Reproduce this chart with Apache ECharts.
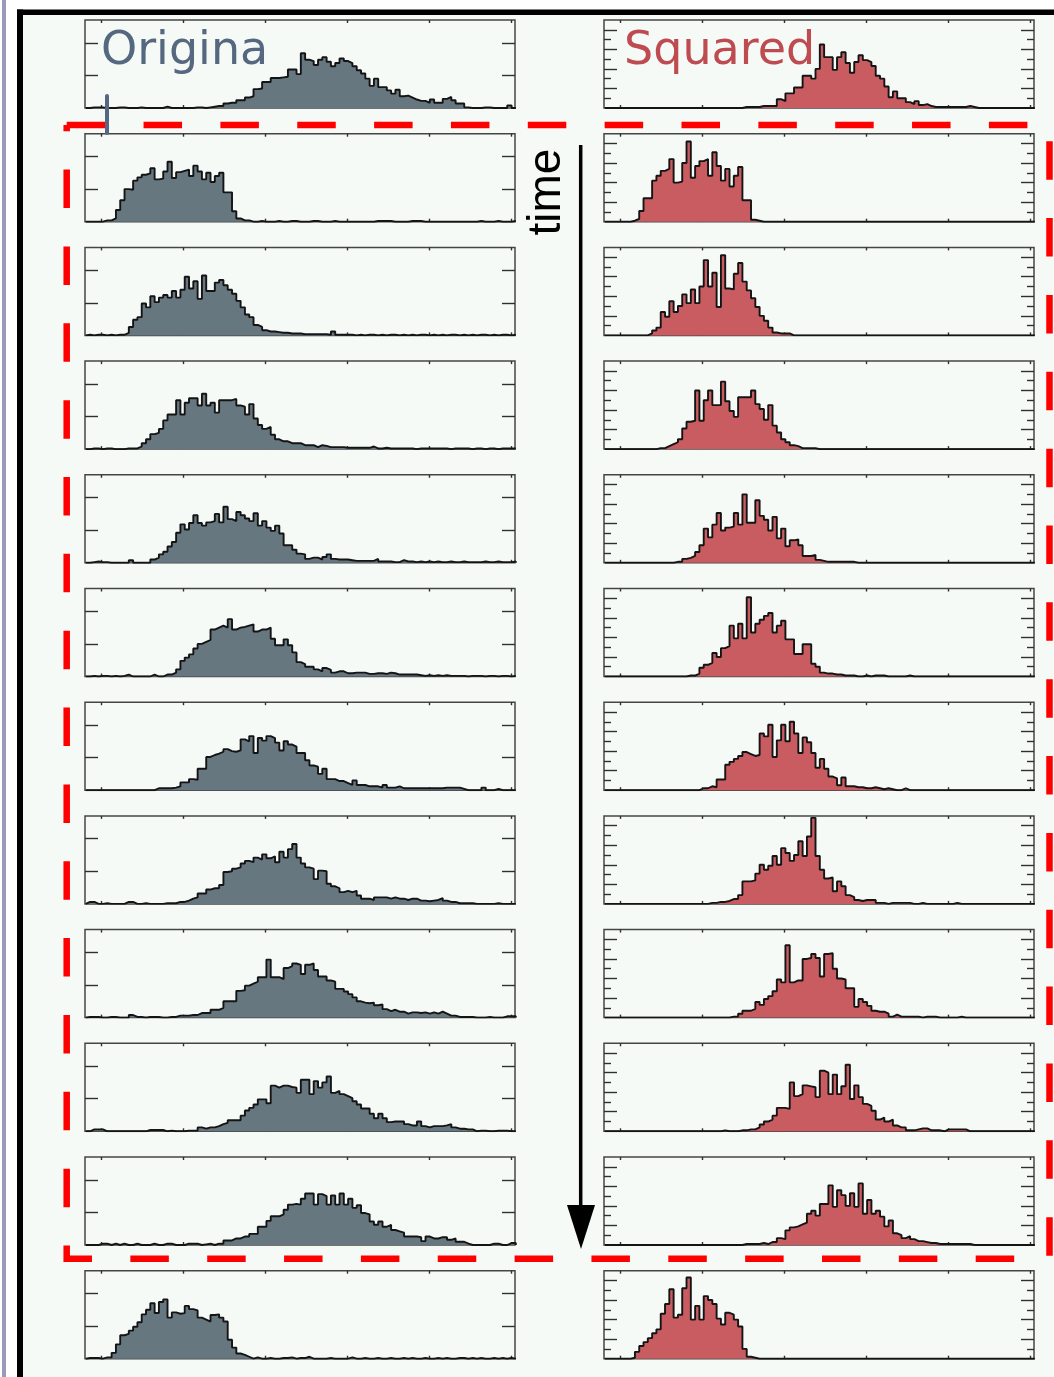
<!DOCTYPE html>
<html>
<head>
<meta charset="utf-8">
<script src="https://cdn.jsdelivr.net/npm/echarts@6/dist/echarts.min.js"></script>
<style>
  html, body { margin: 0; padding: 0; background: #f5faf7; }
  #c { width: 1054px; height: 1377px; }
</style>
</head>
<body>
<div id="c"></div>
<script>
// ---- histogram counts, 100 bins each ----
// left column: original values; top row is the reference run, then successive time steps
const orig00 = [0,1,1,1,0,0,0,1,1,0, 0,0,1,0,0,0,0,0,2,0, 0,0,0,0,0,1,1,0,1,2, 3,3,7,8,8,12,12,16,18,29,
  30,40,40,46,46,47,48,59,59,52, 84,74,72,66,74,78,71,64,69,76, 72,69,64,58,53,45,34,45,32,32,
  27,22,28,18,19,16,13,11,11,8, 13,8,8,14,17,12,7,7,1,0, 0,0,1,1,0,0,0,0,4,0];
const orig01 = [0,0,0,0,2,2,5,18,33,50, 49,63,68,72,74,82,65,66,77,92, 67,76,78,80,70,86,77,65,75,61,
  70,75,45,45,16,5,2,2,0,0, 1,0,0,0,1,0,0,1,1,0, 0,0,1,1,0,0,0,1,0,0, 0,0,0,0,0,0,0,1,1,1,
  1,0,0,0,0,1,1,1,0,0, 0,0,0,0,0,0,0,0,0,0, 0,1,0,0,0,1,0,0,0,1];
const orig02 = [1,0,1,1,0,1,0,1,1,4, 13,24,28,49,43,60,51,58,62,58, 68,58,70,90,72,83,56,92,68,68,
  81,85,77,70,64,53,43,32,28,16, 13,8,6,6,5,4,4,3,3,3, 2,2,2,2,2,2,1,6,1,1, 1,1,0,1,0,1,1,0,1,0,
  1,1,0,1,0,1,0,1,1,0, 1,0,1,0,1,1,0,1,0,1, 0,1,1,0,1,0,1,1,0,1];
const orig03 = [0,1,1,0,1,1,0,0,0,1, 1,1,4,9,15,23,25,31,44,53, 53,75,53,71,78,78,67,85,67,71,
  56,75,75,75,77,67,65,53,69,47, 37,31,34,22,15,12,12,9,9,9, 6,6,6,3,6,5,3,3,3,3, 2,2,2,2,2,2,4,1,1,2,
  1,1,1,1,1,1,0,1,1,1, 1,1,1,1,0,1,1,1,1,0, 1,1,0,1,1,0,1,1,1,1];
const orig04 = [0,1,2,1,1,0,0,0,0,0, 4,0,0,0,0,5,8,13,17,25, 32,46,59,51,61,73,61,57,62,64,
  75,62,86,67,64,78,73,68,64,76, 57,64,54,49,57,45,27,27,20,14, 13,6,8,8,5,9,13,6,5,5, 5,4,3,3,3,3,3,6,2,2,
  2,1,1,4,2,2,1,2,1,2, 1,2,1,1,2,1,1,2,1,1, 1,1,2,1,1,2,1,1,1,2];
const orig05 = [0,1,0,1,1,0,1,0,1,3, 0,0,0,0,0,3,0,0,3,3, 6,11,24,29,34,43,50,53,56,72,
  75,78,75,88,72,75,76,78,80,69, 72,72,75,58,48,48,57,48,37,22, 19,15,15,11,8,13,10,6,8,8, 5,5,6,6,6,4,4,5,5,4,
  6,5,3,3,3,3,3,2,1,2, 1,2,1,2,1,1,1,1,0,1, 1,1,0,1,1,0,1,1,0,1];
const orig06 = [0,0,0,0,0,0,0,0,0,0, 0,0,0,0,0,0,3,3,3,3, 4,6,12,12,17,16,33,33,51,54,
  56,59,63,60,59,61,78,75,83,57, 80,76,83,80,73,61,75,70,67,57, 57,46,38,36,25,33,17,17,14,14, 11,8,15,8,8,6,6,6,4,8,
  4,4,6,3,3,3,3,3,3,3, 3,3,3,4,4,4,4,2,0,0, 0,0,4,0,0,2,0,0,0,0];
const orig07 = [3,3,0,0,1,0,0,0,0,3, 3,0,0,1,0,0,0,0,1,1, 1,3,3,5,8,10,16,16,22,24,
  24,29,49,50,54,56,62,66,64,71, 68,76,70,73,64,80,71,84,92,71, 62,56,54,38,51,50,31,27,24,18, 20,18,20,13,8,8,6,10,10,10,
  8,10,8,8,6,8,8,5,5,4, 5,6,9,5,3,3,1,1,1,1, 0,0,0,0,0,1,0,0,0,0];
const orig08 = [1,1,1,0,0,1,1,0,0,0, 4,1,1,0,1,1,1,0,0,1, 1,3,3,3,4,4,7,7,7,12,
  12,15,25,25,25,41,42,49,52,55, 62,62,89,62,62,59,76,79,83,81, 67,81,83,73,63,63,57,55,44,44, 40,36,31,25,23,22,23,19,20,13,
  10,12,9,9,6,8,8,7,8,6, 8,6,9,6,3,3,1,1,1,1, 0,0,0,1,0,0,0,2,2,2];
const orig09 = [0,3,3,3,0,0,0,0,0,0, 0,0,0,0,2,2,2,2,0,1, 0,0,0,1,1,1,6,4,6,6,
  8,11,13,17,17,17,24,32,36,41, 49,49,43,70,67,70,70,68,67,59, 79,79,57,77,67,75,84,59,62,57, 54,51,46,41,35,35,27,20,27,20,
  14,15,15,15,11,9,9,15,8,6, 8,8,8,9,11,6,4,4,3,3, 0,1,1,0,0,1,1,1,0,0];
const orig10 = [0,0,0,2,2,0,2,0,2,0, 0,2,0,0,0,2,0,0,2,2, 0,0,0,2,2,2,0,1,2,0,
  2,2,7,7,10,10,13,13,17,17, 28,28,37,44,44,47,54,62,63,62, 71,79,79,62,78,75,62,76,62,79, 62,71,57,61,49,47,36,31,36,28,
  31,23,21,19,13,13,13,12,6,13, 10,10,12,12,8,10,5,5,2,0, 0,0,0,0,2,2,0,0,3,3];
const orig11 = [1,1,1,0,2,2,9,22,36,38, 43,49,56,68,75,85,70,87,91,63, 71,69,70,81,76,74,63,60,57,67,
  68,63,57,29,17,8,6,3,0,2, 0,0,1,0,0,1,1,2,0,1, 1,3,0,0,0,0,1,0,0,0, 0,2,0,0,1,0,0,1,0,0,
  1,0,0,1,0,1,0,0,1,0, 0,1,0,1,0,0,1,1,0,1, 0,1,0,0,1,0,1,0,1,0];

// right column: squared values, same time steps
const sq00 = [0,0,0,0,0,0,0,0,0,0, 0,0,0,0,0,0,0,0,0,0, 0,0,0,0,0,0,0,0,0,0, 0,0,1,1,1,1,2,2,2,2,
  9,7,15,15,21,21,33,33,30,40, 65,52,52,39,52,57,46,36,47,54, 49,47,43,33,30,22,11,17,10,10,
  6,4,7,3,4,2,1,1,1,1, 1,1,1,1,2,1,0,0,0,0, 0,0,0,0,0,0,0,0,0,0];
const sq01 = [0,0,0,0,0,0,1,3,11,24, 24,42,47,52,54,64,40,41,60,82, 45,57,62,64,47,71,57,42,54,36,
  47,56,22,22,2,1,0,0,0,0, 0,0,0,0,0,0,0,0,0,0, 0,0,0,0,0,0,0,0,0,0, 0,0,0,0,0,0,0,0,0,0,
  0,0,0,0,0,0,0,0,0,0, 0,0,0,0,0,0,0,0,0,0, 0,0,0,0,0,0,0,0,0,0];
const sq02 = [0,0,0,0,0,0,0,0,0,0, 2,5,8,24,19,35,24,30,42,33, 47,33,50,77,50,64,29,82,48,47,
  63,74,55,46,38,29,20,15,8,3, 2,2,2,0,0,0,0,0,0,0, 0,0,0,0,0,0,0,0,0,0, 0,0,0,0,0,0,0,0,0,0,
  0,0,0,0,0,0,0,0,0,0, 0,0,0,0,0,0,0,0,0,0, 0,0,0,0,0,0,0,0,0,0];
const sq03 = [0,0,0,0,0,0,0,0,0,0, 0,0,1,1,3,5,7,10,21,28, 29,60,29,50,60,45,45,69,49,39,
  33,53,53,53,60,46,41,30,45,24, 17,10,7,4,3,1,1,1,1,0, 0,0,0,0,0,0,0,0,0,0, 0,0,0,0,0,0,0,0,0,0,
  0,0,0,0,0,0,0,0,0,0, 0,0,0,0,0,0,0,0,0,0, 0,0,0,0,0,0,0,0,0,0];
const sq04 = [0,0,0,0,0,0,0,0,0,0, 0,0,0,0,0,0,1,1,4,5, 7,11,18,35,26,39,51,33,36,37,
  51,39,70,41,41,64,48,44,33,47, 25,35,17,23,24,18,7,7,8,3, 2,1,1,1,1,1,1,1,0,0, 0,0,0,0,0,0,0,0,0,0,
  0,0,0,0,0,0,0,0,0,0, 0,0,0,0,0,0,0,0,0,0, 0,0,0,0,0,0,0,0,0,0];
const sq05 = [0,0,0,0,0,0,0,0,0,0, 0,0,0,0,0,0,0,0,0,1, 1,3,9,12,14,24,20,29,31,52,
  39,54,39,81,45,54,58,62,65,45, 52,57,38,38,23,23,33,33,13,10, 4,3,3,2,2,1,1,1,0,0, 1,0,1,1,1,0,0,0,0,0,
  1,0,0,0,0,0,0,0,0,0, 0,0,0,0,0,0,0,0,0,0, 0,0,0,0,0,0,0,0,0,0];
const sq06 = [0,0,0,0,0,0,0,0,0,0, 0,0,0,0,0,0,0,0,0,0, 0,0,2,2,4,3,11,11,26,29,
  32,35,39,37,35,36,58,55,67,34, 51,67,50,70,58,38,54,49,38,23, 32,22,14,12,5,13,4,4,3,3, 2,2,3,2,1,2,1,0,0,2,
  0,0,0,0,0,0,0,0,0,0, 0,0,0,0,0,0,0,0,0,0, 0,0,0,0,0,0,0,0,0,0];
const sq07 = [0,0,0,0,0,0,0,0,0,0, 0,0,0,0,0,0,0,0,0,0, 0,0,0,0,1,1,2,2,3,5,
  5,9,23,23,24,31,40,35,39,49, 40,57,52,44,50,64,49,69,88,49, 35,26,27,13,23,18,9,7,4,3, 4,4,4,1,1,0,1,1,1,1,
  1,0,0,1,0,0,0,0,0,0, 0,1,0,0,0,0,0,0,0,0, 0,0,0,0,0,0,0,0,0,0];
const sq08 = [0,0,0,0,0,0,0,0,0,0, 0,0,0,0,0,0,0,0,0,0, 0,0,0,0,0,0,0,0,0,1,
  1,4,7,7,9,16,13,19,22,27, 39,36,74,36,38,38,60,61,65,61, 42,65,66,50,40,39,30,30,11,19, 16,12,7,6,6,4,1,3,1,1,
  1,1,1,0,1,1,1,0,0,0, 0,0,1,0,0,0,0,0,0,0, 0,0,0,0,0,0,0,0,0,0];
const sq09 = [0,0,0,0,0,0,0,0,0,0, 0,0,0,0,0,0,0,0,0,0, 0,0,0,0,0,0,0,1,0,0,
  0,1,1,2,2,4,7,10,12,16, 24,24,23,50,36,38,47,46,45,35, 62,60,38,58,38,46,68,33,47,35, 28,26,21,12,14,10,12,6,4,4,
  1,1,2,3,3,1,1,1,0,2, 2,2,2,2,0,0,0,0,0,0, 0,0,0,0,0,0,0,0,0,0];
const sq10 = [0,0,0,0,0,0,0,0,0,0, 0,0,0,0,0,0,0,0,0,0, 0,0,0,0,0,0,0,0,0,0,
  0,0,1,1,1,1,2,1,3,3, 7,6,15,18,19,21,23,32,35,30, 42,42,61,39,56,51,40,53,39,63, 32,46,32,35,29,19,25,12,10,7,
  9,6,4,4,3,2,2,1,1,1, 1,1,1,1,1,0,0,0,0,0, 0,0,0,0,0,0,0,0,0,0];
const sq11 = [0,0,0,0,0,0,1,7,13,17, 21,26,30,46,56,71,42,45,72,83, 40,54,40,64,60,56,41,35,47,45,
  40,33,10,2,1,0,0,0,0,0, 0,0,0,0,0,0,0,0,0,0, 0,0,0,0,0,0,0,0,0,0, 0,0,0,0,0,0,0,0,0,0,
  0,0,0,0,0,0,0,0,0,0, 0,0,0,0,0,0,0,0,0,0, 0,0,0,0,0,0,0,0,0,0];

const originalRuns = [orig00, orig01, orig02, orig03, orig04, orig05, orig06, orig07, orig08, orig09, orig10, orig11];
const squaredRuns = [sq00, sq01, sq02, sq03, sq04, sq05, sq06, sq07, sq08, sq09, sq10, sq11];

// axis ticks
const xTicks = [0, 1, 2, 3, 4, 5];
const origYTicks = [50, 100];
const sqYTicksLong = [20, 40, 60, 80];
const sqYTicksShort = [10, 30, 50, 70];

// binning of the horizontal axis
const BIN_START = -0.19;
const BIN_WIDTH = 0.0524;

// ---- layout ----
const X_MIN = -0.2, X_MAX = 5.04;
const ORIG_MAX = 135, SQ_MAX = 90;
const PANEL_W = 430, PANEL_H = 88;
const ROW0_TOP = 20, ROW_STEP = 113.7;
const COL_LEFT = [85, 604];
const FILL = ['#677780', '#c95c60'];

const grids = [], xAxis = [], yAxis = [], series = [];
const tickLine = { color: '#303030', width: 1.4 };

function addX(g, pos) {
  xAxis.push({
    type: 'value', gridIndex: g, position: pos, min: X_MIN, max: X_MAX,
    axisLine: { show: false, onZero: false }, splitLine: { show: false }, axisLabel: { show: false },
    axisTick: { show: true, inside: true, length: 3, customValues: xTicks, lineStyle: tickLine }
  });
  return xAxis.length - 1;
}
function addY(g, pos, max, ticks, len) {
  yAxis.push({
    type: 'value', gridIndex: g, position: pos, min: 0, max: max,
    axisLine: { show: false, onZero: false }, splitLine: { show: false }, axisLabel: { show: false },
    axisTick: { show: true, inside: true, length: len, customValues: ticks, lineStyle: tickLine }
  });
  return yAxis.length - 1;
}
function histData(counts) {
  const d = [[BIN_START, 0]];
  counts.forEach((c, i) => d.push([BIN_START + i * BIN_WIDTH, c]));
  d.push([BIN_START + counts.length * BIN_WIDTH, 0]);
  return d;
}

function addPanel(col, row, counts) {
  const g = grids.length;
  grids.push({
    left: COL_LEFT[col], top: ROW0_TOP + row * ROW_STEP, width: PANEL_W, height: PANEL_H,
    show: true, borderColor: '#454545', borderWidth: 1.5, backgroundColor: 'transparent'
  });
  const xi = addX(g, 'bottom');
  addX(g, 'top');
  let yi;
  if (col === 0) {
    yi = addY(g, 'left', ORIG_MAX, origYTicks, 13);
    addY(g, 'right', ORIG_MAX, origYTicks, 13);
  } else {
    yi = addY(g, 'left', SQ_MAX, sqYTicksLong, 13);
    addY(g, 'right', SQ_MAX, sqYTicksLong, 13);
    addY(g, 'left', SQ_MAX, sqYTicksShort, 7);
    addY(g, 'right', SQ_MAX, sqYTicksShort, 7);
  }
  series.push({
    type: 'line', xAxisIndex: xi, yAxisIndex: yi, step: 'end',
    symbol: 'none', showSymbol: false, silent: true, clip: true,
    data: histData(counts),
    lineStyle: { color: '#141414', width: 1.9 },
    areaStyle: { color: FILL[col], opacity: 1 },
    z: 3
  });
}

originalRuns.forEach((c, r) => addPanel(0, r, c));
squaredRuns.forEach((c, r) => addPanel(1, r, c));

const textBlue = '#55687f';
const textRed = '#be4b50';

const graphic = [
  // white page margin and frame
  { type: 'rect', shape: { x: 0, y: 0, width: 17, height: 1377 }, style: { fill: '#ffffff' }, z: 1 },
  { type: 'rect', shape: { x: 0, y: 0, width: 1054, height: 9.5 }, style: { fill: '#ffffff' }, z: 1 },
  { type: 'rect', shape: { x: 2, y: 0, width: 4, height: 1377 }, style: { fill: '#9a9aba' }, z: 2 },
  { type: 'rect', shape: { x: 17, y: 9.5, width: 6, height: 1368 }, style: { fill: '#000000' }, z: 2 },
  { type: 'rect', shape: { x: 17, y: 9.5, width: 1037, height: 5.5 }, style: { fill: '#000000' }, z: 2 },
  // dashed box around the time steps
  { type: 'polyline', shape: { points: [[66.7, 125], [1049.5, 125], [1049.5, 1258.7], [66.7, 1258.7], [66.7, 125]] },
    style: { stroke: '#ff0000', lineWidth: 6.5, lineDash: [38.5, 38.35], fill: null }, z: 50 },
  // time arrow
  { type: 'line', shape: { x1: 580.7, y1: 145, x2: 580.7, y2: 1212 }, style: { stroke: '#000000', lineWidth: 3.5 }, z: 50 },
  { type: 'polygon', shape: { points: [[567, 1205], [595, 1205], [581, 1249]] }, style: { fill: '#000000' }, z: 50 },
  { type: 'text', x: 547, y: 192, rotation: Math.PI / 2,
    style: { text: 'time', font: '46px "Liberation Sans"', fill: '#000000', align: 'center', verticalAlign: 'middle' }, z: 50 },
  // column titles
  { type: 'text', x: 101, y: 52,
    style: { text: 'Origina', font: '46px "DejaVu Sans"', fill: textBlue, align: 'left', verticalAlign: 'middle' }, z: 50 },
  { type: 'text', x: 624, y: 52,
    style: { text: 'Squared', font: '46px "DejaVu Sans"', fill: textRed, align: 'left', verticalAlign: 'middle' }, z: 50 },
  { type: 'line', shape: { x1: 107, y1: 96, x2: 107, y2: 133 }, style: { stroke: textBlue, lineWidth: 4, lineCap: 'round' }, z: 60 }
];

const chart = echarts.init(document.getElementById('c'), null, { renderer: 'canvas', width: 1054, height: 1377 });
chart.setOption({
  animation: false,
  backgroundColor: '#f5faf7',
  grid: grids,
  xAxis: xAxis,
  yAxis: yAxis,
  series: series,
  graphic: graphic
});
</script>
</body>
</html>
